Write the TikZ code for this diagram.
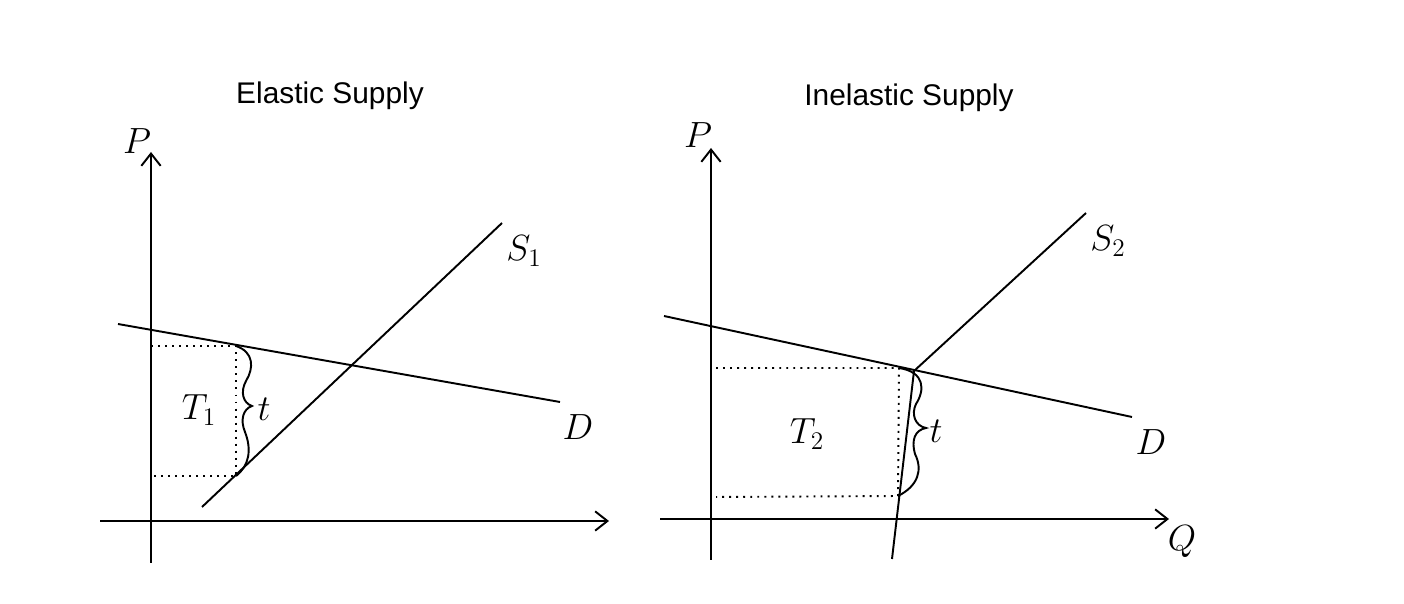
\documentclass[tikz,border=0pt]{standalone}
\usepackage{fontspec}
\newfontfamily\titlefont{Liberation Sans}
\usetikzlibrary{arrows.meta, positioning, calc}

\begin{document}
\begin{tikzpicture}[
  x=0.02cm, y=-0.02cm,
  every node/.style={font=\fontsize{20}{23}\selectfont, inner sep=0pt},
  title/.style={font=\titlefont\fontsize{17}{20}\selectfont},
  curve/.style={line width=1.1pt},
  axis/.style={line width=1.1pt, -{Straight Barb[length=7pt, width=11pt, line width=1.1pt]}},
  guide/.style={line width=1.1pt, dash pattern=on 1.1pt off 2.9pt},
]
  \useasboundingbox (0,0) rectangle (1404,604);

  % ---- Elastic supply
  \node[title] (titleA) at (330,96) {Elastic Supply};
  \coordinate (pA0) at (151,563);
  \coordinate (pA1) at (151,152);
  \coordinate (qA0) at (100,521);
  \coordinate (qA1) at (609,521);
  \draw[axis] (pA0) -- (pA1);
  \draw[axis] (qA0) -- (qA1);
  \node (labPA) at (137,141) {$P$};

  \coordinate (dA0) at (118,324);
  \coordinate (dA1) at (560,402);
  \coordinate (sA0) at (202,507);
  \coordinate (sA1) at (502,223);
  \draw[curve] (dA0) -- (dA1);
  \draw[curve] (sA0) -- (sA1);
  \node (labDA) at (578,427) {$D$};
  \node (labSA) at (524,251) {$S_1$};

  % tax wedge
  \coordinate (cA1) at (236,346);
  \coordinate (cA2) at (236,476);
  \draw[guide] (151,346) -- (cA1) -- (cA2) -- (151,476);
  \draw[curve] (cA1) .. controls ++(18,6) and (254,368) .. (246,381)
    .. controls (240,392) and (243,403) .. (252,406)
    .. controls (243,409) and (240,420) .. (245,432)
    .. controls (252,450) and (249,466) .. (cA2);
  \node (labTA) at (199,410) {$T_1$};
  \node (labtA) at (264,409) {$t$};

  % ---- Inelastic supply
  \node[title] (titleB) at (909,98) {Inelastic Supply};
  \coordinate (pB0) at (711,560);
  \coordinate (pB1) at (711,148);
  \coordinate (qB0) at (660,519);
  \coordinate (qB1) at (1169,519);
  \draw[axis] (pB0) -- (pB1);
  \draw[axis] (qB0) -- (qB1);
  \node (labPB) at (698,135) {$P$};
  \node (labQB) at (1182,542) {$Q$};

  \coordinate (dB0) at (664,316);
  \coordinate (dB1) at (1132,417);
  \coordinate (sB0) at (892,559);
  \coordinate (kink) at (914,371);
  \coordinate (sB1) at (1086,213);
  \draw[curve] (dB0) -- (dB1);
  \draw[curve] (sB0) -- (kink) -- (sB1);
  \node (labDB) at (1151,442) {$D$};
  \node (labSB) at (1108,241) {$S_2$};

  % tax wedge
  \coordinate (cB1) at (899,368);
  \coordinate (cB2) at (898,496);
  \draw[guide] (716,368) -- (cB1) -- (cB2) -- (716,497);
  \draw[curve] (cB1) .. controls (925,372) and (925,390) .. (916,404)
    .. controls (911,414) and (915,426) .. (926,428)
    .. controls (915,430) and (911,440) .. (915,454)
    .. controls (923,470) and (918,486) .. (cB2);
  \node (labTB) at (807,434) {$T_2$};
  \node (labtB) at (936,431) {$t$};
\end{tikzpicture}
\end{document}
